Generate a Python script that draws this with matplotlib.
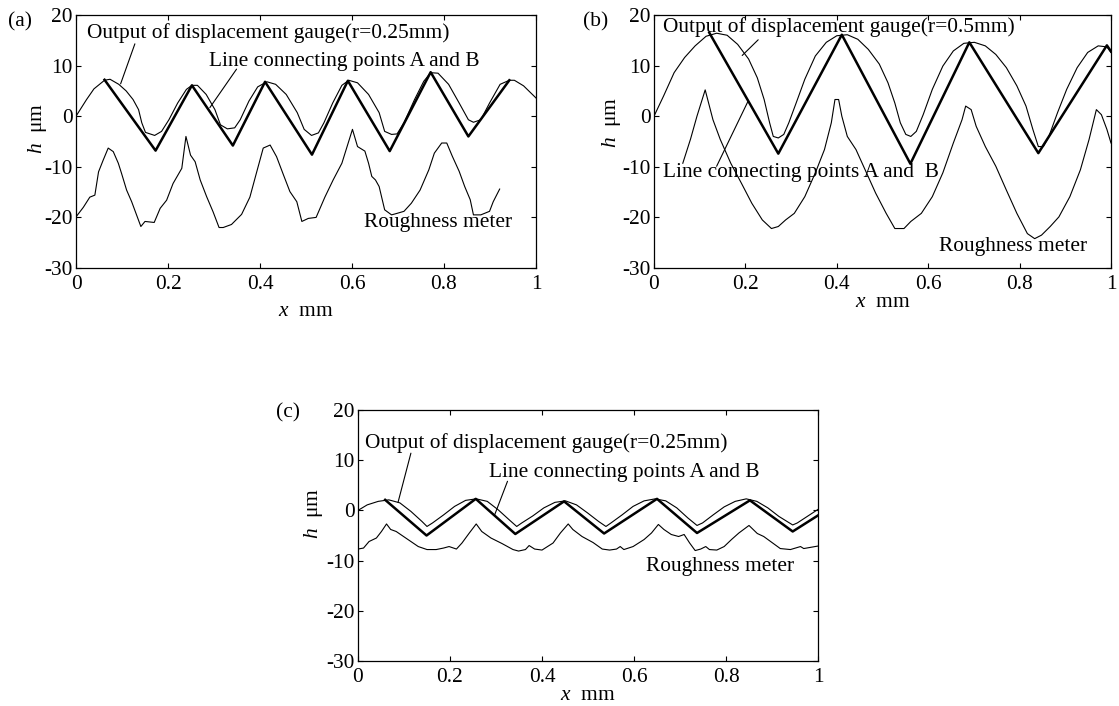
import numpy as np
import matplotlib
matplotlib.use("Agg")
import matplotlib.pyplot as plt

plt.rcParams['font.family'] = ['Liberation Serif', 'DejaVu Serif']
plt.rcParams['mathtext.fontset'] = 'custom'
plt.rcParams['mathtext.rm'] = 'Liberation Serif'
plt.rcParams['mathtext.it'] = 'Liberation Serif:italic'
plt.rcParams['axes.unicode_minus'] = False

# ---- panel (a) r = 0.25 mm ----
a_gauge_x = [0, 0.023, 0.039, 0.062, 0.074, 0.093, 0.109, 0.124, 0.136, 0.143, 0.151, 0.171, 0.186,
             0.202, 0.221, 0.240, 0.252, 0.264, 0.283, 0.302, 0.314, 0.329, 0.345, 0.357, 0.376,
             0.395, 0.415, 0.434, 0.457, 0.481, 0.496, 0.512, 0.527, 0.539, 0.558, 0.578, 0.593,
             0.612, 0.636, 0.659, 0.671, 0.686, 0.698, 0.713, 0.736, 0.756, 0.771, 0.787, 0.810,
             0.833, 0.853, 0.864, 0.880, 0.899, 0.922, 0.942, 0.953, 0.973, 1.0]
a_gauge_y = [0, 3.3, 5.4, 7.1, 7.3, 6.3, 5.0, 3.3, 1.3, -1.3, -3.2, -3.8, -3.0,
             -0.7, 2.6, 5.3, 6.1, 6.1, 4.3, 1.3, -1.7, -2.5, -2.3, -0.7, 3.0,
             5.8, 6.8, 6.3, 4.3, 0.7, -2.6, -3.8, -3.3, -1.3, 2.6, 6.1, 7.1,
             6.6, 4.3, 0.7, -3.0, -3.6, -3.5, -1.3, 3.3, 6.9, 8.6, 8.5, 6.3,
             2.6, -0.7, -1.2, -0.7, 2.6, 6.3, 7.1, 7.1, 6.0, 3.6]
a_tri_x = [0.062, 0.173, 0.252, 0.341, 0.411, 0.513, 0.591, 0.682, 0.771, 0.853, 0.942]
a_tri_y = [7.2, -6.8, 6.1, -5.8, 6.8, -7.6, 7.0, -6.9, 8.7, -4.0, 7.1]
a_rough_x = [0.0, 0.016, 0.030, 0.041, 0.049, 0.059, 0.070, 0.081, 0.092, 0.099, 0.110, 0.121,
             0.141, 0.150, 0.170, 0.183, 0.197, 0.211, 0.230, 0.239, 0.249, 0.259, 0.270, 0.284,
             0.298, 0.311, 0.320, 0.338, 0.360, 0.378, 0.392, 0.407, 0.422, 0.436, 0.451, 0.465,
             0.480, 0.491, 0.505, 0.522, 0.541, 0.559, 0.578, 0.601, 0.612, 0.628, 0.636, 0.643,
             0.651, 0.659, 0.671, 0.686, 0.698, 0.713, 0.729, 0.748, 0.767, 0.779, 0.795, 0.806,
             0.818, 0.833, 0.845, 0.857, 0.864, 0.880, 0.899, 0.907, 0.921]
a_rough_y = [-19.9, -18.0, -16.0, -15.6, -11.0, -8.7, -6.3, -7.0, -9.3, -11.3, -14.6, -16.9,
             -21.8, -20.8, -21.0, -18.2, -16.6, -13.3, -10.3, -4.0, -7.7, -9.0, -12.6, -15.9,
             -18.9, -22.0, -22.0, -21.4, -19.4, -16.0, -11.3, -6.3, -5.7, -8.0, -11.6, -14.9,
             -16.9, -20.8, -20.2, -20.0, -16.0, -12.6, -9.3, -2.6, -6.0, -6.9, -9.3, -11.9,
             -12.6, -13.9, -18.5, -19.5, -19.2, -18.8, -17.2, -14.6, -10.6, -7.3, -5.3, -5.3,
             -7.9, -10.9, -13.9, -16.5, -19.5, -19.5, -18.8, -16.9, -14.4]

# ---- panel (b) r = 0.5 mm ----
b_gauge_x = [0, 0.021, 0.044, 0.067, 0.090, 0.114, 0.137, 0.160, 0.183, 0.207, 0.226, 0.241, 0.253,
             0.261, 0.272, 0.284, 0.295, 0.311, 0.330, 0.353, 0.377, 0.400, 0.423, 0.446, 0.469,
             0.493, 0.512, 0.527, 0.539, 0.551, 0.562, 0.574, 0.589, 0.609, 0.632, 0.655, 0.678,
             0.701, 0.725, 0.748, 0.771, 0.794, 0.814, 0.829, 0.841, 0.852, 0.864, 0.883, 0.903,
             0.926, 0.949, 0.972, 0.991, 1.0]
b_gauge_y = [0, 4.0, 8.6, 11.6, 13.9, 15.8, 16.4, 16.0, 14.2, 11.3, 7.6, 3.3, -1.3,
             -4.0, -4.3, -3.6, -1.3, 2.6, 7.3, 11.9, 14.6, 15.9, 16.1, 15.2, 13.2,
             10.3, 6.6, 2.6, -1.3, -3.6, -4.0, -3.0, 0.3, 5.3, 9.9, 12.9, 14.4,
             14.6, 13.9, 12.2, 9.6, 6.0, 2.0, -2.6, -6.0, -6.0, -4.0, 0.7, 5.3,
             9.6, 12.6, 13.9, 13.7, 12.6]
b_tri_x = [0.121, 0.272, 0.411, 0.561, 0.690, 0.841, 0.991, 1.0]
b_tri_y = [16.5, -7.4, 16.1, -9.4, 14.6, -7.3, 14.0, 12.8]
b_rough_x = [0.063, 0.080, 0.094, 0.112, 0.129, 0.145, 0.168, 0.191, 0.214, 0.237, 0.257, 0.272,
             0.288, 0.307, 0.330, 0.353, 0.373, 0.388, 0.396, 0.404, 0.411, 0.423, 0.442, 0.462,
             0.485, 0.508, 0.527, 0.547, 0.562, 0.585, 0.609, 0.632, 0.655, 0.674, 0.682, 0.694,
             0.705, 0.725, 0.748, 0.771, 0.794, 0.817, 0.833, 0.848, 0.867, 0.886, 0.910, 0.933,
             0.952, 0.968, 0.979, 0.991, 1.0]
b_rough_y = [-9.3, -4.5, 0.0, 5.2, -0.7, -4.6, -9.3, -13.2, -17.2, -20.5, -22.2, -21.8,
             -20.5, -19.2, -15.9, -11.2, -6.6, -1.3, 3.3, 3.3, 0.0, -4.0, -6.6, -10.6,
             -15.2, -19.2, -22.2, -22.2, -20.8, -19.2, -15.9, -11.2, -5.3, -0.7, 2.0, 1.3,
             -2.0, -6.0, -9.9, -14.6, -19.2, -23.2, -24.2, -23.5, -21.8, -19.9, -15.9, -10.6,
             -4.6, 1.3, 0.3, -2.6, -5.3]

# ---- panel (c) r = 0.25 mm ----
c_gauge_x = [0, 0.020, 0.044, 0.067, 0.091, 0.115, 0.139, 0.150, 0.162, 0.186, 0.210, 0.234, 0.257,
             0.281, 0.305, 0.329, 0.345, 0.356, 0.380, 0.404, 0.428, 0.451, 0.475, 0.499, 0.523,
             0.539, 0.550, 0.574, 0.598, 0.622, 0.646, 0.669, 0.693, 0.717, 0.737, 0.749, 0.772,
             0.796, 0.820, 0.844, 0.867, 0.891, 0.915, 0.945, 0.955, 0.975, 1.0]
c_gauge_y = [0, 1.1, 1.8, 2.1, 1.5, -0.2, -2.2, -3.2, -2.5, -0.9, 0.8, 2.0, 2.3,
             1.8, 0.1, -1.9, -3.2, -2.5, -1.1, 0.5, 1.6, 1.9, 1.1, -0.5, -2.2,
             -3.2, -2.5, -0.9, 0.8, 1.9, 2.3, 1.9, 0.5, -1.5, -3.0, -2.5, -0.9,
             0.7, 1.8, 2.3, 1.8, 0.5, -1.2, -2.9, -2.5, -1.3, 0.2]
c_tri_x = [0.059, 0.149, 0.256, 0.342, 0.448, 0.535, 0.650, 0.737, 0.852, 0.945, 1.0]
c_tri_y = [2.1, -5.0, 2.3, -4.7, 1.8, -4.6, 2.3, -4.5, 2.0, -4.2, -1.0]
c_rough_x = [0, 0.012, 0.024, 0.040, 0.051, 0.062, 0.071, 0.083, 0.099, 0.115, 0.131, 0.150, 0.170,
             0.186, 0.198, 0.214, 0.226, 0.242, 0.257, 0.269, 0.289, 0.313, 0.337, 0.349, 0.364,
             0.372, 0.384, 0.400, 0.412, 0.424, 0.440, 0.457, 0.467, 0.487, 0.511, 0.531, 0.547,
             0.562, 0.570, 0.578, 0.598, 0.622, 0.638, 0.653, 0.665, 0.681, 0.697, 0.709, 0.721,
             0.733, 0.745, 0.756, 0.764, 0.780, 0.796, 0.812, 0.828, 0.850, 0.868, 0.882, 0.903,
             0.918, 0.940, 0.962, 0.969, 1.0]
c_rough_y = [-7.7, -7.5, -6.2, -5.5, -4.2, -2.7, -3.8, -4.2, -5.2, -6.2, -7.2, -7.8, -7.8,
             -7.5, -7.2, -7.7, -6.5, -4.5, -2.7, -4.2, -5.5, -6.6, -7.8, -8.1, -7.8,
             -7.0, -7.7, -7.9, -7.2, -6.5, -4.5, -2.7, -3.8, -5.2, -6.4, -7.7, -7.9,
             -7.7, -7.2, -7.8, -7.2, -5.8, -4.5, -2.8, -3.8, -4.8, -5.2, -4.8, -6.5,
             -8.0, -7.7, -7.2, -7.8, -7.9, -7.2, -5.8, -4.5, -3.0, -4.6, -5.2, -6.6,
             -7.6, -7.8, -7.2, -7.6, -7.1]

# label texts, positions (x, y) in data units and leader lines
gauge_labels = ['Output of displacement gauge(r=0.25mm)', 'Output of displacement gauge(r=0.5mm)',
                'Output of displacement gauge(r=0.25mm)']
line_labels = ['Line connecting points A and B', 'Line connecting points A and  B',
               'Line connecting points A and B']
rough_label = 'Roughness meter'

gauge_text_pos = [(0.023, 16.5), (0.019, 17.6), (0.016, 13.4)]
line_text_pos = [(0.289, 10.8), (0.019, -11.2), (0.285, 7.5)]
rough_text_pos = [(0.626, -21.0), (0.624, -25.8), (0.626, -11.1)]
gauge_leader = [((0.128, 14.3), (0.097, 6.4)), ((0.228, 15.1), (0.193, 12.0)), ((0.115, 11.4), (0.087, 1.6))]
line_leader = [((0.349, 9.3), (0.291, 1.7)), ((0.137, -9.9), (0.206, 3.0)), ((0.325, 5.8), (0.297, -0.9))]

W, H = 1119, 706
fig = plt.figure(figsize=(W / 100, H / 100), dpi=100)

boxes = [(76, 15, 460, 253), (654, 15, 457, 253), (358, 410, 460, 251)]
panel_tags = ['(a)', '(b)', '(c)']
tag_pos = [(20, 22), (596, 22), (288, 413)]
xlabel_pad = [6, -0.5, -1]
ylabel_xy = [(-0.059, 0.553), (-0.068, 0.577), (-0.071, 0.59)]

data = [(a_gauge_x, a_gauge_y, a_tri_x, a_tri_y, a_rough_x, a_rough_y),
        (b_gauge_x, b_gauge_y, b_tri_x, b_tri_y, b_rough_x, b_rough_y),
        (c_gauge_x, c_gauge_y, c_tri_x, c_tri_y, c_rough_x, c_rough_y)]

fs = 15.4
for i, (l, t, w, h) in enumerate(boxes):
    ax = fig.add_axes([l / W, 1 - (t + h) / H, w / W, h / H])
    gx, gy, tx, ty, rx, ry = data[i]
    ax.plot(gx, gy, color='black', lw=0.8)
    ax.plot(tx, ty, color='black', lw=1.8)
    ax.plot(rx, ry, color='black', lw=0.8)

    ax.set_xlim(0, 1)
    ax.set_ylim(-30, 20)
    ax.set_xticks([0, 0.2, 0.4, 0.6, 0.8, 1])
    ax.set_xticklabels(['0', '0.2', '0.4', '0.6', '0.8', '1'])
    ax.set_yticks([-30, -20, -10, 0, 10, 20])
    ax.tick_params(direction='in', top=True, right=True, length=3.5, width=0.8,
                   labelsize=fs)
    ax.tick_params(axis='x', pad=5)
    ax.tick_params(axis='y', pad=2.5)
    for s in ax.spines.values():
        s.set_linewidth(0.9)

    ax.set_xlabel(r'$x$  mm', fontsize=fs, labelpad=xlabel_pad[i])
    ax.set_ylabel(r'$h$  μm', fontsize=fs)
    ax.yaxis.set_label_coords(*ylabel_xy[i])

    ax.text(*gauge_text_pos[i], gauge_labels[i], fontsize=fs, va='center', ha='left')
    ax.text(*line_text_pos[i], line_labels[i], fontsize=fs, va='center', ha='left')
    ax.text(*rough_text_pos[i], rough_label, fontsize=fs, va='center', ha='left')
    for start, end in (gauge_leader[i], line_leader[i]):
        ax.annotate('', xy=end, xytext=start,
                    arrowprops=dict(arrowstyle='-', lw=0.8, color='black',
                                    shrinkA=0, shrinkB=0))

    fig.text(tag_pos[i][0] / W, 1 - tag_pos[i][1] / H, panel_tags[i],
             fontsize=fs, ha='center', va='center')

fig.savefig('out.png', dpi=100)
